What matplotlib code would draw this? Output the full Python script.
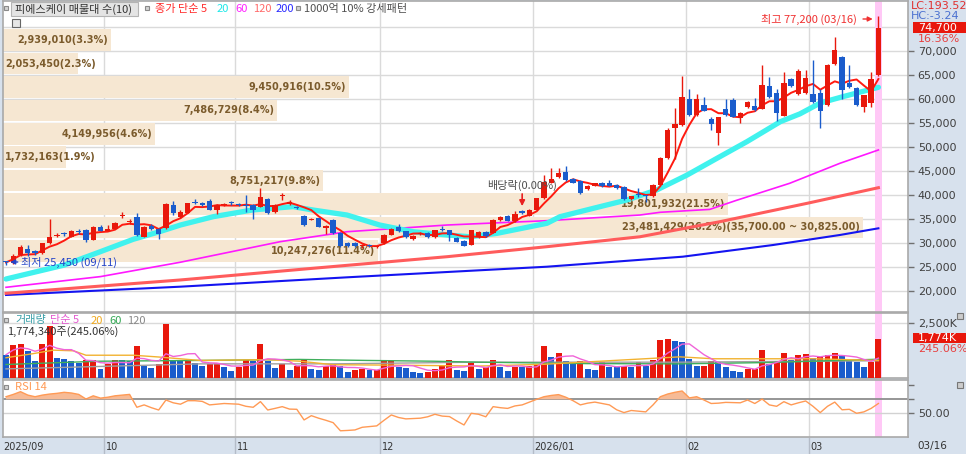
import matplotlib
matplotlib.use('Agg')
import matplotlib.pyplot as plt
from matplotlib.patches import Rectangle
import numpy as np
import pandas as pd

plt.rcParams['font.family'] = ['Noto Sans CJK KR', 'DejaVu Sans']

# ---------------- data ----------------
opens = [26100, 25800, 27500, 28800, 28300, 27900, 30000, 31500, 31900, 31300,
         32500, 32700, 30700, 33400, 32600, 33000, 35600, 34300, 35500, 31300,
         33600, 32900, 33100, 37900, 35500, 36300, 38600, 38400, 38800, 36900,
         37900, 38400, 38200, 38000, 37900, 37600, 39100, 36500, 39700, 38200,
         37500, 35600, 34800, 35150, 33200, 34800, 32000, 30100, 30000, 29300,
         29600, 29100, 29900, 31700, 33300, 32400, 30800, 31800, 32100, 31200,
         32800, 32700, 31100, 30500, 29600, 31200, 32300, 32100, 34800, 35600,
         34500, 36600, 35700, 36900, 39300, 42600, 43700, 44850, 43400, 43000,
         41200, 41900, 42600, 42400, 42000, 41700, 39200, 40300, 39900, 39700,
         42100, 47700, 53900, 54500, 59900, 56700, 58700, 55800, 52900, 58000,
         59800, 56000, 58300, 58500, 58000, 62700, 61300, 56500, 64100, 61000,
         61200, 61000, 61200, 58700, 67300, 68700, 63400, 62200, 58300, 59200,
         65000]
highs = [26300, 27700, 29600, 29500, 28500, 30000, 34900, 32100, 32300, 32800,
         32900, 33000, 33500, 33800, 33800, 34400, 36500, 34900, 36200, 33500,
         33900, 33100, 38300, 38700, 36800, 38400, 39200, 38600, 39200, 38100,
         38300, 38700, 38400, 40000, 38200, 41400, 39300, 38200, 40400, 39000,
         37700, 35800, 35200, 35300, 33700, 35000, 32200, 30300, 30200, 29800,
         29800, 29400, 31800, 33100, 33900, 32500, 31600, 32200, 32300, 32800,
         33600, 32800, 31300, 30600, 32800, 32500, 32600, 34900, 35600, 35800,
         36700, 36800, 37000, 39400, 44200, 45600, 45600, 46000, 43600, 43200,
         42000, 42600, 42800, 43200, 42300, 41900, 39800, 41400, 40100, 42200,
         48000, 54000, 58100, 64800, 62000, 61000, 60500, 56200, 56300, 60000,
         60200, 57200, 59600, 60300, 67100, 64500, 62000, 65700, 64300, 66200,
         66000, 68100, 62000, 67300, 73000, 68900, 67000, 62500, 60900, 65600,
         77200]
lows = [25450, 25600, 27300, 27200, 27500, 27700, 29800, 31200, 31400, 31200,
        31900, 30300, 30600, 32400, 32400, 32900, 35200, 34000, 31500, 31200,
        32800, 30800, 33000, 35800, 35300, 36200, 38200, 37700, 36800, 36000,
        37700, 38000, 37700, 36500, 35000, 37400, 36100, 36300, 39000, 38000,
        37000, 33600, 34700, 33300, 31900, 31900, 29200, 29100, 29100, 29000,
        29100, 29000, 29800, 31600, 32300, 31000, 30700, 31600, 31100, 31100,
        32400, 30500, 30200, 29300, 29500, 31000, 31200, 32000, 34600, 34500,
        34400, 36100, 35600, 36800, 39200, 42400, 43500, 43000, 42400, 40300,
        41000, 41800, 41700, 41800, 41300, 38900, 39000, 39600, 38500, 39500,
        42000, 47500, 47500, 54300, 56500, 56500, 57400, 53600, 50400, 56500,
        56200, 55000, 58200, 57500, 57900, 60300, 55400, 56400, 62400, 60900,
        61000, 59200, 53900, 58500, 67100, 60000, 62200, 58500, 57300, 58300,
        64800]
closes = [25950, 27300, 29200, 28000, 27900, 29900, 31200, 31700, 31800, 32500,
          32200, 30700, 33400, 32600, 33000, 34200, 35800, 34500, 31700, 33400,
          33000, 31900, 38100, 36300, 36500, 38300, 38400, 37900, 36900, 37900,
          38000, 38300, 37900, 37800, 36900, 39600, 36300, 37900, 39800, 38500,
          37200, 33750, 35000, 33400, 33500, 32000, 29300, 29300, 29300, 29600,
          29300, 29300, 31700, 33000, 32400, 31200, 31500, 31900, 31200, 32700,
          32700, 31700, 30300, 29400, 32700, 32300, 31400, 34800, 35500, 34650,
          36000, 36200, 36900, 39300, 42800, 43400, 44500, 43100, 42600, 40500,
          41900, 42500, 41900, 41900, 41500, 39100, 39700, 40000, 39700, 42100,
          47800, 53500, 54700, 60400, 56700, 59900, 57600, 54800, 56200, 56700,
          56300, 57000, 59450, 57800, 62900, 60500, 57000, 63400, 62700, 65900,
          64300, 59400, 57400, 67100, 70200, 61900, 62400, 58750, 60800, 64200,
          74700]
# volume in thousand shares
volume_k = [1053, 1480, 1557, 1206, 747, 1526, 2350, 916, 870, 747,
            687, 794, 824, 412, 641, 824, 794, 780, 1448, 532,
            440, 641, 2427, 824, 747, 824, 687, 532, 641, 687,
            517, 334, 517, 794, 760, 1526, 747, 458, 611, 382,
            532, 824, 412, 382, 532, 611, 565, 290, 367, 412,
            345, 360, 750, 765, 517, 440, 290, 228, 290, 412,
            595, 794, 367, 336, 716, 412, 517, 824, 517, 336,
            517, 500, 532, 641, 1447, 945, 1145, 747, 716, 760,
            412, 382, 716, 517, 505, 532, 517, 716, 565, 824,
            1740, 1786, 1664, 1650, 870, 532, 565, 747, 740, 517,
            336, 290, 412, 420, 1282, 641, 747, 1128, 794, 1053,
            1100, 900, 945, 1053, 1145, 1050, 747, 740, 517, 724,
            1774.34]
rsi14 = [73.7, 77, 80.9, 76, 73.7, 76, 77.5, 78.5, 80, 79,
         77, 70.4, 75, 71.7, 73, 75, 76, 77, 58.6, 62,
         58, 54.7, 69, 65, 63, 68, 68, 67, 62, 63,
         64, 63.5, 63, 60, 58.6, 66.7, 54.7, 57, 59.5, 56,
         55.7, 40.5, 46.6, 43, 40, 36.6, 25, 25.5, 26.2, 30,
         31, 32, 40, 47.6, 44, 42, 42.5, 43, 45, 48.6,
         46, 45.3, 39, 33.3, 50, 48.6, 45, 59.5, 58, 57,
         60.5, 62, 66, 70, 73.7, 75.5, 76.7, 73, 68, 62,
         64.5, 66, 64, 62, 55, 51, 54, 53, 52, 62,
         73.7, 77.5, 80, 81.9, 72, 73.7, 69, 64, 64.5, 65.6,
         65.3, 65, 69, 64, 70.4, 62, 60, 66.6, 62, 65,
         67.6, 60, 51, 60, 66, 55, 55.7, 50, 52, 57,
         64]

# moving-average lines (candle position, value)
ma20_x = [0, 8, 13, 17.5, 21, 24, 28.5, 34, 39.5, 42.2, 46.9, 51.4, 56, 60.7, 63.8, 67.5,
          74.4, 76.2, 80.8, 85.4, 89.5, 93.7, 97.8, 101.9, 106.5, 109.2, 112, 115.1, 120]
ma20_v = [22500, 25400, 28200, 30770, 32300, 33750, 35480, 36900, 37570, 36880, 35830, 33750,
          32350, 31670, 31300, 32000, 34100, 35480, 37230, 38960, 41040, 44170, 47650, 51100,
          55270, 56900, 59170, 60480, 62440]
ma60_x = [0, 13, 24, 37.7, 46.9, 60.7, 74.4, 87.2, 90, 96.8, 100.5, 107.8, 114.7, 120]
ma60_v = [20770, 23000, 26000, 30270, 32350, 33750, 34650, 35830, 36400, 37000, 38900, 42440, 46600, 49380]
ma120_x = [0, 24, 42.2, 60.7, 74.4, 87.2, 98.2, 110.2, 120]
ma120_v = [19520, 22300, 24730, 27150, 29230, 31300, 34440, 38270, 41520]
ma200_x = [0, 24, 46.9, 74.4, 93.1, 105.5, 114.7, 120]
ma200_v = [19170, 20900, 22850, 25060, 27150, 29580, 31670, 33060]

vma20_x = [0, 3.7, 6.5, 9.3, 11, 17.5, 21, 26.7, 35.9, 40.4, 45, 54, 65, 74, 92.7, 97.3, 111, 120]
vma20_v = [916, 1100, 1260, 1230, 1030, 1030, 950, 794, 830, 760, 600, 580, 540, 620, 957, 870, 870, 794]
vma60_x = [0, 12.9, 26.7, 40.4, 49.7, 58.7, 65, 80, 92.7, 105, 120]
vma60_v = [611, 760, 794, 840, 794, 760, 716, 650, 640, 700, 850]
vma120_x = [0, 26.7, 45, 65, 92.7, 120]
vma120_v = [412, 640, 640, 716, 716, 780]

# volume profile (bottom band first), bands of 4,875 from 25,950
vp_volumes = [10247276, 23481429, 19801932, 8751217, 1732163, 4149956, 7486729, 9450916, 2053450, 2939010]
vp_pct = [11.4, 26.2, 21.5, 9.8, 1.9, 4.6, 8.4, 10.5, 2.3, 3.3]
vp_low = 25950
vp_step = 4875

month_bounds = [13.5, 31.5, 51.5, 72.5, 93.5, 110.5]
month_labels = ['10', '11', '12', '2026/01', '02', '03']
price_ticks = [20000, 25000, 30000, 35000, 40000, 45000, 50000, 55000, 60000, 65000, 70000]
grid_prices = price_ticks + [75000]

# ---------------- figure ----------------
W, H = 966, 454
fig = plt.figure(figsize=(W / 100, H / 100), dpi=100)
fig.patch.set_facecolor('#d7e1ed')

RED = '#e8180c'
BLUE = '#1a5ccc'
GRID = '#dadada'
NUMF = 'DejaVu Sans'


def fx(p):
    return p / W


def fy(p):
    return 1 - p / H


def mk_ax(x0, y0, x1, y1):
    return fig.add_axes([fx(x0), fy(y1), (x1 - x0) / W, (y1 - y0) / H])


def ftext(x, y, s, **kw):
    kw.setdefault('fontsize', 8)
    kw.setdefault('va', 'center')
    return fig.text(fx(x), fy(y), s, **kw)


def frect(x0, y0, x1, y1, **kw):
    r = Rectangle((fx(x0), fy(y1)), (x1 - x0) / W, (y1 - y0) / H,
                  transform=fig.transFigure, **kw)
    fig.patches.append(r)
    return r


X0, X1 = 3, 908
SP = 7.27
XL = (-(6 - X0) / SP, (X1 - 6) / SP)

axp = mk_ax(X0, 1, X1, 312)
axv = mk_ax(X0, 313, X1, 378)
axr = mk_ax(X0, 380, X1, 437)
axs = mk_ax(X0, 438, X1, 454)

n = len(closes)
idx = np.arange(n)
o = np.array(opens, float)
h = np.array(highs, float)
l = np.array(lows, float)
c = np.array(closes, float)

for a in (axp, axv, axr):
    a.set_facecolor('white')
    a.set_xlim(*XL)
    a.set_xticks([])
    for s in a.spines.values():
        s.set_color('#a9a9a9')
        s.set_linewidth(1.2)
    for b in month_bounds:
        a.axvline(b, color=GRID, lw=1, zorder=0.5)
    a.axvspan(n - 1.5, n - 0.5, color='#ffc8f6', lw=0, zorder=0.6)
    a.yaxis.tick_right()
    a.tick_params(axis='y', direction='out', length=4, width=1, color='#707070',
                  pad=3, labelsize=8, labelcolor='#404040')

# ---- price panel ----
axp.set_ylim(15625, 80417)
for p in grid_prices:
    axp.axhline(p, color=GRID, lw=1, zorder=0.5)
axp.set_yticks(price_ticks)
axp.set_yticklabels([f'{v:,}' for v in price_ticks], fontfamily=NUMF)

trans = axp.get_yaxis_transform()
vmax = max(vp_volumes)
vp_texts = []
for k, (v, pc) in enumerate(zip(vp_volumes, vp_pct)):
    lo = vp_low + k * vp_step
    L = v / vmax * 0.95
    axp.add_patch(Rectangle((0, lo + 0.04 * vp_step), L, 0.92 * vp_step, transform=trans,
                            facecolor='#f6e7d2', lw=0, zorder=1))
    s = f'{v:,}({pc:.1f}%)'
    if v == vmax:
        s += f'({vp_low + (k + 1) * vp_step:,.2f} ~ {lo:,.2f})'
    t = axp.text(L - 0.0033, lo + vp_step / 2, s, transform=trans, ha='right', va='center',
                 fontsize=7, fontweight='bold', color='#7b5b2c', fontfamily=NUMF, zorder=1.5)
    vp_texts.append(t)

fig.canvas.draw()
rend = fig.canvas.get_renderer()
axl = axp.get_window_extent(rend).x0
for t in vp_texts:
    bb = t.get_window_extent(rend)
    if bb.x0 < axl + 3:
        t.set_x(0.0025)
        t.set_ha('left')

ma5 = pd.Series(c).rolling(5, min_periods=1).mean().values
axp.plot(ma200_x, ma200_v, color='#1414f0', lw=1.5, zorder=2)
axp.plot(ma120_x, ma120_v, color='#ff5c5c', lw=2.2, zorder=2)
axp.plot(ma60_x, ma60_v, color='#ff18ff', lw=1.2, zorder=2)
axp.plot(ma20_x, ma20_v, color='#40f2ee', lw=3.8, zorder=3, solid_capstyle='round',
         solid_joinstyle='round')
axp.plot(idx, ma5, color='#ff1a10', lw=1.4, zorder=3.5)

up = c >= o
ccol = np.where(up, RED, BLUE)
axp.vlines(idx, l, h, colors=ccol, lw=1, zorder=4)
body_lo = np.minimum(o, c)
body_h = np.maximum(np.abs(c - o), 220)
axp.bar(idx, body_h, bottom=body_lo, width=0.74, color=ccol, lw=0, zorder=5)

# annotations
axp.text(117.1, 76667, '최고 77,200 (03/16)', ha='right', va='center', fontsize=8, color='#f03030', zorder=6)
axp.annotate('', xy=(119.6, 76667), xytext=(117.5, 76667),
             arrowprops=dict(arrowstyle='-|>', color='#f03030', lw=1, mutation_scale=7), zorder=6)
axp.text(2.1, 26042, '최저 25,450 (09/11)', ha='left', va='center', fontsize=8, color='#2444c8', zorder=6)
axp.annotate('', xy=(0.2, 26042), xytext=(2.0, 26042),
             arrowprops=dict(arrowstyle='-|>', color='#2444c8', lw=1, mutation_scale=7), zorder=6)
axp.text(66.2, 42083, '배당락(0.00%)', ha='left', va='center', fontsize=8, color='#505050', zorder=6)
axp.annotate('', xy=(71, 37100), xytext=(71, 40800),
             arrowprops=dict(arrowstyle='-|>', color='#e82020', lw=1.2, mutation_scale=8), zorder=6)

# ---- volume panel ----
axv.set_ylim(0, 2940)
vol = np.array(volume_k, float)
vcol = [BLUE] + [RED if vol[i] > vol[i - 1] else BLUE for i in range(1, n)]
axv.axhline(2500, color=GRID, lw=1, zorder=0.5)
axv.bar(idx, vol, width=0.82, color=vcol, lw=0, zorder=3)
vma5 = pd.Series(vol).rolling(5, min_periods=1).mean().values
axv.plot(vma120_x, vma120_v, color='#a0a0a0', lw=1, zorder=4)
axv.plot(vma60_x, vma60_v, color='#3fae5c', lw=1, zorder=4)
axv.plot(vma20_x, vma20_v, color='#f2b230', lw=1, zorder=4)
axv.plot(idx, vma5, color='#f064d8', lw=1, zorder=4)
axv.set_yticks([2500])
axv.set_yticklabels(['2,500K'], fontfamily=NUMF)

# ---- RSI panel ----
axr.set_ylim(16.1, 97.6)
r = np.array(rsi14, float)
axr.axhline(50, color='#d2d2d2', lw=1, zorder=1)
axr.axhline(70, color='#8e8e8e', lw=1.3, zorder=2)
axr.fill_between(idx, 70, r, where=r >= 70, interpolate=True, color='#f7bb96', lw=0, zorder=3)
axr.plot(idx, r, color='#ff9a55', lw=1, zorder=4)
axr.set_yticks([50, 70, 90])
axr.set_yticklabels(['50.00', '', ''], fontfamily=NUMF)

# ---- date strip ----
axs.set_xlim(*XL)
axs.set_ylim(0, 1)
axs.axis('off')
for b, lab in zip(month_bounds, month_labels):
    axs.axvline(b, color='#b4bcc8', lw=1)
    axs.text(b + 0.2, 0.45, lab, ha='left', va='center', fontsize=7, color='#333333', fontfamily=NUMF)
axs.text(0.0, 0.45, '2025/09', transform=axs.transAxes, ha='left', va='center',
         fontsize=7, color='#333333', fontfamily=NUMF)

# ---- title / legend texts ----
sq = dict(facecolor='#d4d4d4', edgecolor='#8a8a8a', lw=0.8)
frect(4, 6, 8, 10, **sq)
frect(11, 2, 138, 16, facecolor='#e4e4e4', edgecolor='#b4b4b4', lw=0.8)
ftext(15, 9, '피에스케이 매물대 수(10)', color='#333333')
frect(145, 6, 149, 10, **sq)
ftext(155, 9, '종가 단순 5', color='#ff2a2a')
ftext(217, 9, '20', color='#1ee8e8')
ftext(235, 9, '60', color='#ff22ff')
ftext(253, 9, '120', color='#ff6a6a')
ftext(276, 9, '200', color='#2a2aff')
frect(296, 6, 300, 10, **sq)
ftext(304, 9, '1000억 10% 강세패턴', color='#505050')
frect(12, 19, 20, 27, facecolor='#e6e6e6', edgecolor='#666666', lw=0.8)

frect(4, 318, 8, 322, **sq)
ftext(15, 320.5, '거래량', color='#3a9fa8')
ftext(50, 320.5, '단순 5', color='#e458d0')
ftext(91, 320.5, '20', color='#f0aa20')
ftext(109, 320.5, '60', color='#35a855')
ftext(127, 320.5, '120', color='#888888')
ftext(7, 332, '1,774,340주(245.06%)', color='#333333')

frect(4, 385, 8, 389, **sq)
ftext(15, 387, 'RSI 14', color='#ff9a55')

# right-side value boxes
ftext(911, 6, 'LC:193.52', color='#e03030', fontfamily=NUMF)
ftext(911, 16, 'HC:-3.24', color='#4a70d0', fontfamily=NUMF)
frect(913, 22, 966, 33, facecolor='#e8170c', lw=0)
ftext(918, 27.5, '74,700', color='white', fontfamily=NUMF)
ftext(918, 39, '16.36%', color='#e84040', fontfamily=NUMF)
frect(913, 333, 966, 343, facecolor='#e8170c', lw=0)
ftext(918, 338, '1,774K', color='white', fontfamily=NUMF)
ftext(918, 349, '245.06%', color='#e84040', fontfamily=NUMF)
ftext(917, 446, '03/16', color='#333333', fontfamily=NUMF, fontsize=7.5)
frect(957, 313, 963, 319, facecolor='#cccccc', edgecolor='#777777', lw=0.8)
frect(957, 382, 963, 388, facecolor='#cccccc', edgecolor='#777777', lw=0.8)

fig.savefig('out.png', dpi=100, facecolor=fig.get_facecolor())
